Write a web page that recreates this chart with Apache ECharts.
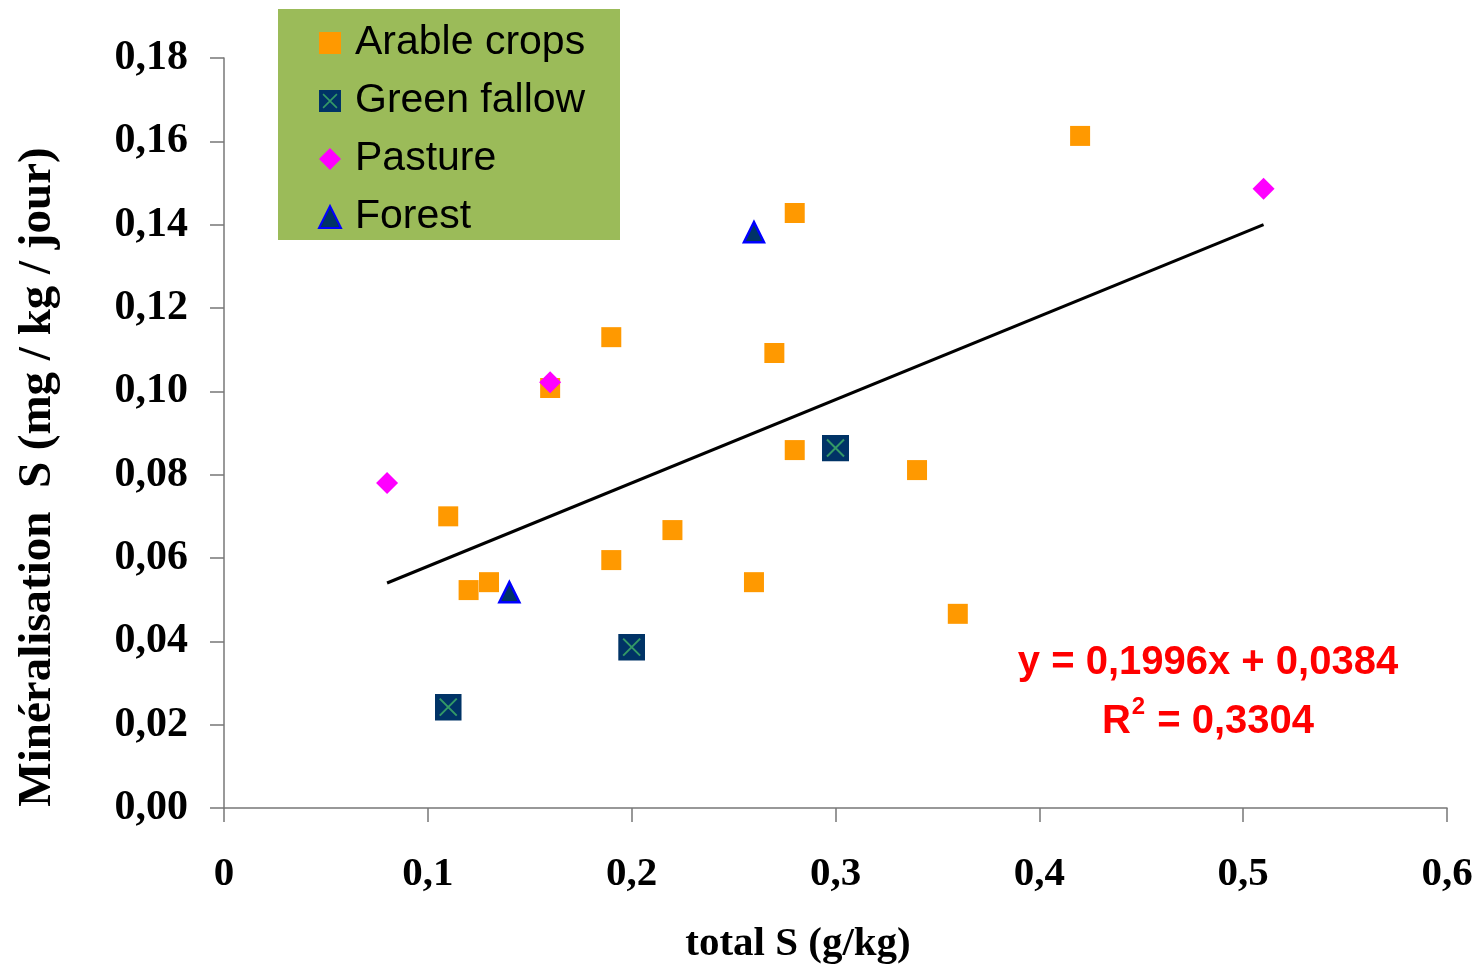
<!DOCTYPE html>
<html>
<head>
<meta charset="utf-8">
<script src="https://cdn.jsdelivr.net/npm/echarts@6/dist/echarts.min.js"></script>
<style>
html, body { margin: 0; padding: 0; background: #fff; }
#main { width: 1482px; height: 971px; }
</style>
</head>
<body>
<div id="main"></div>
<script>
// values
const arableX = [0.11, 0.12, 0.13, 0.16, 0.19, 0.19, 0.22, 0.26, 0.27, 0.28, 0.28, 0.34, 0.36, 0.42];
const arableY = [0.070, 0.0523, 0.0542, 0.1008, 0.113, 0.0595, 0.0667, 0.0542, 0.1092, 0.1428, 0.0859, 0.0811, 0.0466, 0.1613];
const fallowX = [0.11, 0.20, 0.30];
const fallowY = [0.0242, 0.0386, 0.0864];
const pastureX = [0.08, 0.16, 0.51];
const pastureY = [0.078, 0.1022, 0.1486];
const forestX = [0.14, 0.26];
const forestY = [0.0518, 0.1382];
// regression line end points
const trendX = [0.08, 0.51];
const trendY = [0.054, 0.140];

const seriesNames = ['Arable crops', 'Green fallow', 'Pasture', 'Forest'];
const equationText = 'y = 0,1996x + 0,0384';
const r2Value = '0,3304';

function zip(xs, ys) {
    return xs.map(function (x, i) { return [x, ys[i]]; });
}

function comma(v, d) {
    if (v === 0 && d === 1) return '0';
    return v.toFixed(d).replace('.', ',');
}

const fallowSvg = '<svg xmlns="http://www.w3.org/2000/svg" width="27" height="27" viewBox="0 0 27 27">' +
    '<rect width="27" height="27" fill="#003366"/>' +
    '<path d="M5 5L22 22M22 5L5 22" stroke="#339966" stroke-width="2"/></svg>';
const fallowSymbol = 'image://data:image/svg+xml;charset=utf-8,' + encodeURIComponent(fallowSvg);

const serif = '"Liberation Serif", "Times New Roman", serif';
const sans = '"Liberation Sans", Arial, sans-serif';

const option = {
    backgroundColor: '#fff',
    animation: false,
    grid: {
        left: 224,
        right: 35,
        top: 58,
        bottom: 163,
        containLabel: false
    },
    legend: {
        orient: 'vertical',
        left: 313,
        top: 16,
        data: seriesNames,
        itemWidth: 22,
        itemHeight: 22,
        itemGap: 14,
        textStyle: {
            fontFamily: sans,
            fontSize: 41,
            lineHeight: 44,
            color: '#000',
            padding: [0, 0, 0, 9]
        }
    },
    xAxis: {
        type: 'value',
        min: 0,
        max: 0.6,
        interval: 0.1,
        splitLine: { show: false },
        axisLine: { onZero: false, lineStyle: { color: '#777', width: 1.5 } },
        axisTick: { show: true, length: 14, lineStyle: { color: '#777', width: 1.5 } },
        axisLabel: {
            margin: 46,
            fontFamily: serif,
            fontWeight: 'bold',
            fontSize: 41,
            color: '#000',
            formatter: function (v) { return comma(v, 1); }
        }
    },
    yAxis: {
        type: 'value',
        min: 0,
        max: 0.18,
        interval: 0.02,
        splitLine: { show: false },
        axisLine: { show: true, onZero: false, lineStyle: { color: '#777', width: 1.5 } },
        axisTick: { show: true, length: 14, lineStyle: { color: '#777', width: 1.5 } },
        axisLabel: {
            margin: 36,
            fontFamily: serif,
            fontWeight: 'bold',
            fontSize: 42,
            color: '#000',
            formatter: function (v) { return comma(v, 2); }
        }
    },
    graphic: [
        {
            type: 'rect',
            left: 278,
            top: 9,
            z: -1,
            shape: { width: 342, height: 231 },
            style: { fill: '#9BBB59' }
        },
        {
            type: 'text',
            x: 38,
            y: 477,
            rotation: Math.PI / 2,
            style: {
                text: 'Minéralisation  S (mg / kg / jour)',
                fontFamily: serif,
                fontWeight: 'bold',
                fontSize: 47,
                fill: '#000',
                align: 'center',
                verticalAlign: 'middle'
            }
        },
        {
            type: 'text',
            x: 798,
            y: 944,
            style: {
                text: 'total S (g/kg)',
                fontFamily: serif,
                fontWeight: 'bold',
                fontSize: 41,
                fill: '#000',
                align: 'center',
                verticalAlign: 'middle'
            }
        },
        {
            type: 'text',
            x: 1208,
            y: 663,
            style: {
                text: equationText,
                fontFamily: sans,
                fontWeight: 'bold',
                fontSize: 40,
                fill: '#FF0000',
                align: 'center',
                verticalAlign: 'middle'
            }
        },
        {
            type: 'text',
            x: 1208,
            y: 722,
            style: {
                text: '{b|R}{s|2}{b| = ' + r2Value + '}',
                fill: '#FF0000',
                align: 'center',
                verticalAlign: 'middle',
                rich: {
                    b: { fontFamily: sans, fontWeight: 'bold', fontSize: 40, fill: '#FF0000' },
                    s: { fontFamily: sans, fontWeight: 'bold', fontSize: 24, fill: '#FF0000', padding: [0, 1, 30, 1] }
                }
            }
        }
    ],
    series: [
        {
            name: 'trend',
            type: 'line',
            data: zip(trendX, trendY),
            symbol: 'none',
            silent: true,
            lineStyle: { color: '#000', width: 3 },
            z: 1
        },
        {
            name: seriesNames[0],
            type: 'scatter',
            data: zip(arableX, arableY),
            symbol: 'rect',
            symbolSize: 20,
            itemStyle: { color: '#FF9900', opacity: 1 },
            z: 3
        },
        {
            name: seriesNames[1],
            type: 'scatter',
            data: zip(fallowX, fallowY),
            symbol: fallowSymbol,
            symbolSize: 27,
            itemStyle: { opacity: 1 },
            z: 3
        },
        {
            name: seriesNames[2],
            type: 'scatter',
            data: zip(pastureX, pastureY),
            symbol: 'diamond',
            symbolSize: 22,
            itemStyle: { color: '#FF00FF', opacity: 1 },
            z: 4
        },
        {
            name: seriesNames[3],
            type: 'scatter',
            data: zip(forestX, forestY),
            symbol: 'triangle',
            symbolSize: 20,
            itemStyle: { color: '#003366', borderColor: '#0000FF', borderWidth: 2.5, opacity: 1 },
            z: 4
        }
    ]
};

const chart = echarts.init(document.getElementById('main'));
chart.setOption(option);
</script>
</body>
</html>
